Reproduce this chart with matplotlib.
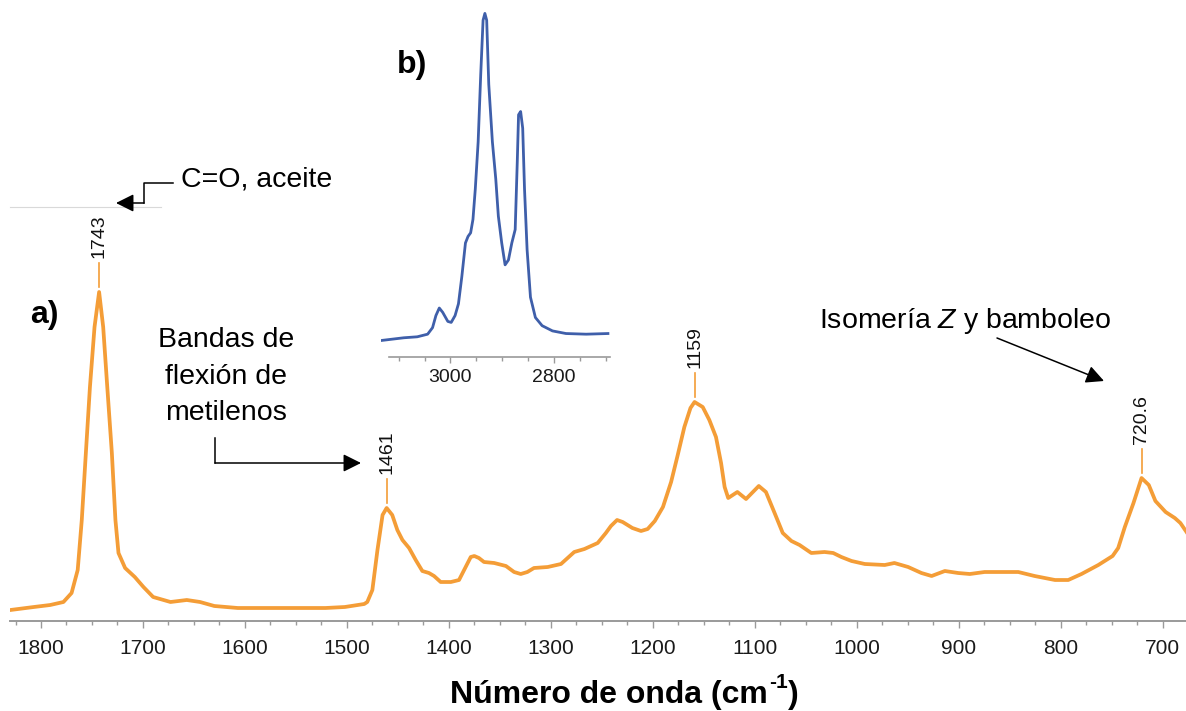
import numpy as np
import matplotlib
matplotlib.use('Agg')
import matplotlib.pyplot as plt
from matplotlib.ticker import MultipleLocator

plt.rcParams['font.family'] = ['Liberation Sans', 'DejaVu Sans']
plt.rcParams['mathtext.fontset'] = 'custom'
plt.rcParams['mathtext.rm'] = 'Liberation Sans'
plt.rcParams['mathtext.it'] = 'Liberation Sans:italic'
plt.rcParams['mathtext.bf'] = 'Liberation Sans:bold'

# --- datos: espectro FTIR (region de huella dactilar) ---
numero_onda = [1830, 1807, 1791, 1778, 1770, 1764, 1760, 1756, 1752, 1747.5,
               1743, 1739, 1735, 1730.5, 1727, 1724, 1717.5, 1708, 1699.5, 1690,
               1673, 1657, 1644, 1630, 1607, 1521, 1502, 1483, 1480, 1475,
               1470, 1465, 1461, 1455.5, 1450.5, 1445.5, 1439, 1432.5, 1426, 1419.5,
               1414.5, 1408, 1398, 1390, 1383.5, 1378.5, 1375, 1370.5, 1365.5, 1355.5,
               1344, 1336, 1329.5, 1323, 1316.5, 1303, 1290, 1283.5, 1277, 1267,
               1254, 1246, 1241, 1235, 1229.5, 1220, 1211.5, 1205, 1198, 1190,
               1182, 1175.5, 1169, 1163, 1159, 1151, 1144.5, 1138, 1133, 1129.5,
               1126, 1117, 1108.5, 1096, 1089, 1080.5, 1072.5, 1064, 1056, 1044.5,
               1031.5, 1023, 1015, 1005, 992, 972.5, 963, 949.5, 936.5, 926.5,
               913.5, 900.5, 889, 874.5, 841.5, 825.5, 805.5, 792.5, 779.5, 763,
               749, 743.5, 737, 728.5, 720.6, 713.5, 707, 697, 688, 682.5,
               676.5]
absorbancia = [0.011, 0.014, 0.016, 0.019, 0.028, 0.051, 0.101, 0.168, 0.234, 0.294,
               0.329, 0.294, 0.234, 0.168, 0.101, 0.068, 0.053, 0.044, 0.034, 0.024,
               0.019, 0.021, 0.019, 0.015, 0.013, 0.013, 0.014, 0.017, 0.019, 0.031,
               0.071, 0.106, 0.113, 0.106, 0.091, 0.081, 0.073, 0.061, 0.050, 0.048,
               0.045, 0.039, 0.039, 0.041, 0.054, 0.064, 0.065, 0.063, 0.059, 0.058,
               0.055, 0.049, 0.047, 0.049, 0.053, 0.054, 0.057, 0.063, 0.069, 0.072,
               0.078, 0.088, 0.095, 0.101, 0.099, 0.093, 0.090, 0.092, 0.100, 0.114,
               0.139, 0.166, 0.194, 0.213, 0.219, 0.214, 0.201, 0.184, 0.158, 0.134,
               0.123, 0.129, 0.122, 0.135, 0.129, 0.108, 0.088, 0.080, 0.076, 0.068,
               0.069, 0.068, 0.064, 0.060, 0.057, 0.056, 0.058, 0.054, 0.048, 0.045,
               0.050, 0.048, 0.047, 0.049, 0.049, 0.045, 0.041, 0.041, 0.047, 0.056,
               0.065, 0.073, 0.094, 0.118, 0.143, 0.136, 0.120, 0.109, 0.103, 0.098,
               0.089]

picos = [1743, 1461, 1159, 720.6]
etiquetas_picos = ['1743', '1461', '1159', '720.6']

# --- datos: region C-H (recuadro b) ---
onda_ch = [3132, 3090, 3064, 3044, 3034.5, 3028, 3021.5, 3015, 3005, 2998.5,
           2991, 2984.5, 2978, 2971, 2966, 2961, 2956.5, 2952, 2946.5, 2941.5,
           2937, 2933.5, 2930, 2926, 2919, 2912.5, 2907.5, 2901, 2894.5, 2888,
           2881.5, 2875, 2871, 2868.5, 2864.5, 2860.5, 2857, 2852, 2845.5, 2836,
           2823, 2803, 2777, 2738, 2696]
intensidad_ch = [0, 0.008, 0.011, 0.019, 0.039, 0.076, 0.099, 0.086, 0.058, 0.055,
                 0.076, 0.112, 0.195, 0.298, 0.318, 0.329, 0.370, 0.463, 0.607, 0.814,
                 0.979, 1.0, 0.979, 0.783, 0.607, 0.494, 0.380, 0.298, 0.231, 0.246,
                 0.298, 0.339, 0.545, 0.690, 0.700, 0.649, 0.463, 0.277, 0.132, 0.070,
                 0.045, 0.029, 0.021, 0.019, 0.021]

NARANJA = '#F49D37'
AZUL = '#3F5FAA'
GRIS = '#9a9a9a'
W, H = 1186, 711

fig = plt.figure(figsize=(W / 100, H / 100), dpi=100)

# ---------- espectro principal ----------
ax = fig.add_axes([10 / W, 1 - 621 / H, 1176 / W, 621 / H])
ax.plot(numero_onda, absorbancia, color=NARANJA, lw=2.7, solid_joinstyle='round')
ax.set_xlim(1830.4, 677)
ax.set_ylim(0, 0.621)
for s in ['left', 'right', 'top']:
    ax.spines[s].set_visible(False)
ax.spines['bottom'].set_color(GRIS)
ax.spines['bottom'].set_linewidth(1.4)
ax.set_yticks([])
ax.xaxis.set_major_locator(MultipleLocator(100))
ax.xaxis.set_minor_locator(MultipleLocator(25))
ax.tick_params(axis='x', which='major', length=5, width=1, color=GRIS,
               labelsize=15, labelcolor='#1a1a1a', pad=8)
ax.tick_params(axis='x', which='minor', length=3, width=1, color=GRIS)

orden = np.argsort(numero_onda)
for p, etiqueta in zip(picos, etiquetas_picos):
    h = np.interp(p, np.array(numero_onda)[orden], np.array(absorbancia)[orden])
    ax.plot([p, p], [h + 0.005, h + 0.029], color=NARANJA, lw=1.2)
    ax.text(p, h + 0.034, etiqueta, rotation=90, ha='center', va='bottom',
            fontsize=14, color='#111111')

# ---------- recuadro b) ----------
axb = fig.add_axes([381 / W, 1 - 357.4 / H, (610 - 381) / W, 357.4 / H])
axb.patch.set_alpha(0)
axb.plot(onda_ch, intensidad_ch, color=AZUL, lw=2.0, solid_joinstyle='round')
axb.set_xlim(3134, 2692)
axb.set_ylim(-0.052, 1.041)
for s in ['left', 'right', 'top']:
    axb.spines[s].set_visible(False)
axb.spines['bottom'].set_color(GRIS)
axb.spines['bottom'].set_linewidth(1.2)
axb.spines['bottom'].set_bounds(3119, 2692)
axb.set_yticks([])
axb.xaxis.set_major_locator(MultipleLocator(200))
axb.xaxis.set_minor_locator(MultipleLocator(50))
axb.tick_params(axis='x', which='major', length=4, width=1, color=GRIS,
                labelsize=14, labelcolor='#1a1a1a', pad=4)
axb.tick_params(axis='x', which='minor', length=3, width=1, color=GRIS)

# ---------- anotaciones (capa en pixeles) ----------
ov = fig.add_axes([0, 0, 1, 1])
ov.set_xlim(0, W)
ov.set_ylim(H, 0)
ov.axis('off')
ov.patch.set_alpha(0)

flecha = dict(arrowstyle='-|>,head_length=0.4,head_width=0.2', color='black',
              lw=1.1, shrinkA=0, shrinkB=0, mutation_scale=27)

# C=O, aceite
ov.plot([10, 161], [207, 207], color='#d9d9d9', lw=0.8)
ov.text(181, 186, 'C=O, aceite', fontsize=20.5, va='baseline', ha='left')
ov.plot([173, 144, 144], [183, 183, 203], color='black', lw=1.1)
ov.annotate('', xy=(116, 203), xytext=(144, 203), arrowprops=flecha)

# Bandas de flexion de metilenos
for texto, yb in zip(['Bandas de', 'flexión de', 'metilenos'], [347, 384, 420]):
    ov.text(226, yb, texto, fontsize=20.5, va='baseline', ha='center')
ov.plot([215, 215], [438, 463], color='black', lw=1.1)
ov.annotate('', xy=(361, 463), xytext=(215, 463), arrowprops=flecha)

# Isomeria Z
ov.text(819, 328, r'Isomería $\mathit{Z}$ y bamboleo', fontsize=20.5,
        va='baseline', ha='left')
ov.annotate('', xy=(1104, 381), xytext=(997, 338), arrowprops=flecha)

# etiquetas a) y b)
ov.text(30, 323, 'a)', fontsize=23, fontweight='bold', va='baseline')
ov.text(397, 73, 'b)', fontsize=23, fontweight='bold', va='baseline')

# titulo del eje x
t1 = ov.text(450, 703, 'Número de onda (cm', fontsize=23, fontweight='bold',
             va='baseline', ha='left')
t2 = ov.annotate('-1', xy=(1, 1), xycoords=t1, xytext=(1, 5),
                 textcoords='offset points', fontsize=15, fontweight='bold',
                 va='top', ha='left')
ov.annotate(')', xy=(1, 0), xycoords=(t2, t1), xytext=(0, 0),
            textcoords='offset points', fontsize=23, fontweight='bold',
            va='bottom', ha='left')

plt.savefig('out.png', dpi=100)
